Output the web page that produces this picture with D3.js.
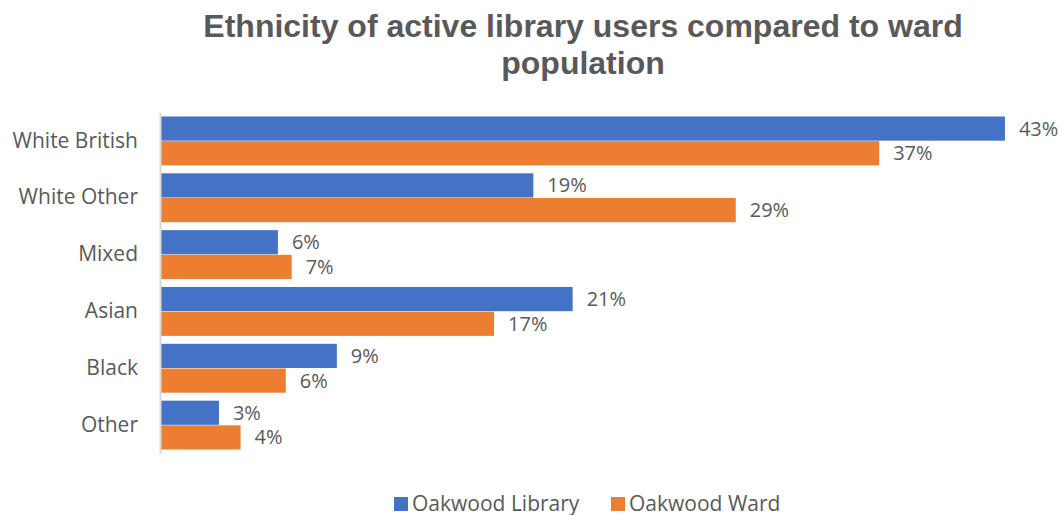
<!DOCTYPE html>
<html>
<head>
<meta charset="utf-8">
<script src="https://cdn.jsdelivr.net/npm/d3@7"></script>
<style>
  body { margin: 0; background: #fff; }
  text { font-family: "Open Sans", "Noto Sans", sans-serif; fill: #595959; }
</style>
</head>
<body>
<script>
// chart data
var categories = ["White British", "White Other", "Mixed", "Asian", "Black", "Other"];
var seriesNames = ["Oakwood Library", "Oakwood Ward"];
var libraryValues = [0.43, 0.19, 0.06, 0.21, 0.09, 0.03];
var wardValues = [0.366, 0.293, 0.067, 0.17, 0.064, 0.041];
var colors = ["#4472C4", "#ED7D31"];

function init(){
    var w = 1064;
    var h = 515;

    var svg = d3.select("body")
        .append("svg")
        .attr("width", w)
        .attr("height", h);

    // title
    var title = svg.append("text")
        .attr("text-anchor", "middle")
        .style("font-family", "'Liberation Sans Narrow', 'Arial Narrow', 'Liberation Sans', sans-serif")
        .style("font-weight", "bold")
        .style("font-size", "32px");
    title.append("tspan").attr("x", 583).attr("y", 37).text("Ethnicity of active library users compared to ward");
    title.append("tspan").attr("x", 583).attr("y", 74).text("population");

    var x = d3.scaleLinear().domain([0, 0.45]).range([160, 160 + 45 * 19.65]);
    var y = d3.scaleBand().domain(categories).range([112.5, 453.5]).paddingInner(0.14).paddingOuter(0.07);
    var ySub = d3.scaleBand().domain([0, 1]).range([0, y.bandwidth()]).paddingInner(0.02);

    var rows = categories.map(function(c, i){
        return {cat: c, vals: [libraryValues[i], wardValues[i]]};
    });

    var groups = svg.selectAll("g.row")
        .data(rows)
        .enter()
        .append("g")
        .attr("class", "row")
        .attr("transform", function(d){ return "translate(0," + y(d.cat) + ")"; });

    groups.selectAll("rect")
        .data(function(d){ return d.vals; })
        .enter()
        .append("rect")
        .attr("x", x(0))
        .attr("y", function(d, i){ return ySub(i); })
        .attr("width", function(d){ return x(d) - x(0); })
        .attr("height", ySub.bandwidth())
        .attr("fill", function(d, i){ return colors[i]; });

    groups.selectAll("text.val")
        .data(function(d){ return d.vals; })
        .enter()
        .append("text")
        .attr("class", "val")
        .attr("x", function(d){ return x(d) + 14; })
        .attr("y", function(d, i){ return ySub(i) + ySub.bandwidth() / 2; })
        .attr("dy", "0.35em")
        .style("font-size", "20px")
        .text(function(d){ return d3.format(".0%")(d); });

    // category axis
    var yAxis = svg.append("g")
        .attr("transform", "translate(" + x(0) + ",0)")
        .call(d3.axisLeft(y).tickSize(0).tickPadding(22));
    yAxis.select(".domain").attr("stroke", "#d9d9d9").attr("stroke-width", 2);
    yAxis.selectAll("text")
        .style("font-size", "21px")
        .style("fill", "#595959")
        .style("font-family", "'Open Sans', 'Noto Sans', sans-serif");

    // legend
    var legendX = [394, 611];
    var legend = svg.selectAll("g.legend")
        .data(seriesNames)
        .enter()
        .append("g")
        .attr("class", "legend")
        .attr("transform", function(d, i){ return "translate(" + legendX[i] + ",497)"; });
    legend.append("rect")
        .attr("width", 14)
        .attr("height", 14)
        .attr("fill", function(d, i){ return colors[i]; });
    legend.append("text")
        .attr("x", 18)
        .attr("y", 7)
        .attr("dy", "0.35em")
        .style("font-size", "21px")
        .text(function(d){ return d; });
}
window.onload = init;
</script>
</body>
</html>
